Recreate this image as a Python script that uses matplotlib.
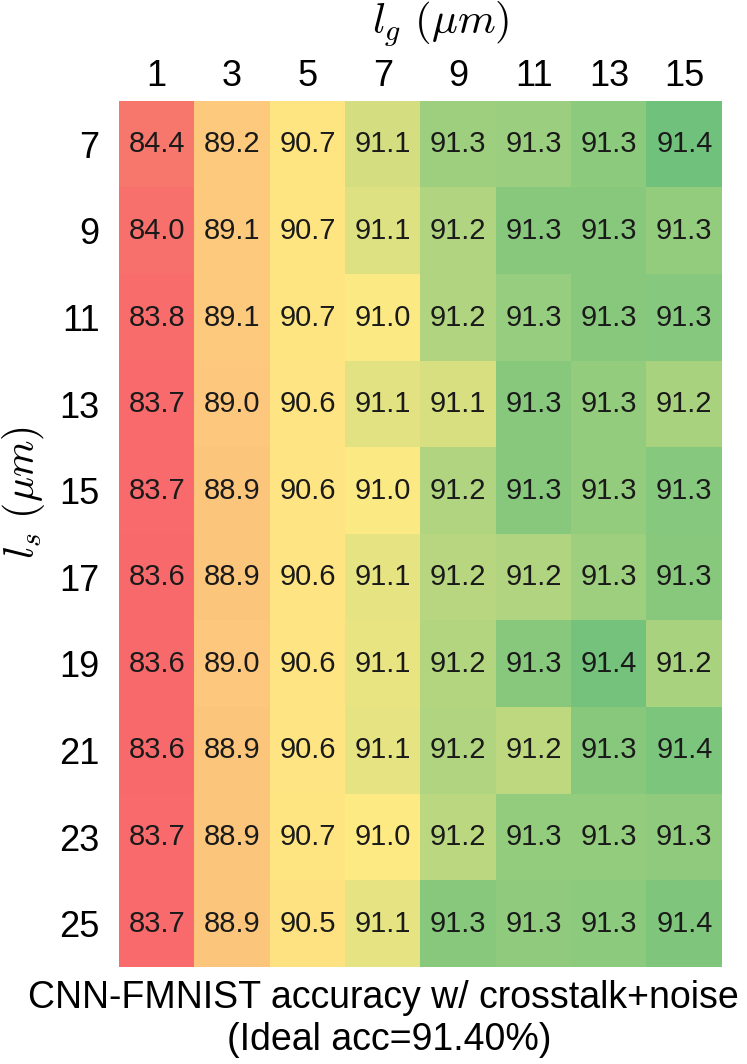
import numpy as np
import matplotlib
matplotlib.use("Agg")
import matplotlib.pyplot as plt
from matplotlib.colors import LinearSegmentedColormap, TwoSlopeNorm

plt.rcParams['font.family'] = ['Liberation Sans', 'DejaVu Sans']
plt.rcParams['mathtext.fontset'] = 'cm'

lg_labels = ["1", "3", "5", "7", "9", "11", "13", "15"]
ls_labels = ["7", "9", "11", "13", "15", "17", "19", "21", "23", "25"]

# accuracy (%) per l_s row, columns follow lg_labels; second decimal estimated from cell shade
row_7 = [84.42, 89.20, 90.70, 91.12, 91.27, 91.28, 91.32, 91.40]
row_9 = [84.02, 89.10, 90.70, 91.09, 91.22, 91.33, 91.33, 91.30]
row_11 = [83.80, 89.10, 90.70, 91.01, 91.22, 91.29, 91.33, 91.34]
row_13 = [83.70, 89.00, 90.60, 91.08, 91.11, 91.33, 91.30, 91.24]
row_15 = [83.70, 88.90, 90.60, 91.01, 91.22, 91.33, 91.30, 91.34]
row_17 = [83.60, 88.90, 90.60, 91.07, 91.20, 91.22, 91.27, 91.33]
row_19 = [83.60, 89.00, 90.60, 91.06, 91.21, 91.33, 91.39, 91.24]
row_21 = [83.60, 88.90, 90.60, 91.07, 91.22, 91.18, 91.33, 91.37]
row_23 = [83.70, 88.90, 90.70, 91.00, 91.19, 91.30, 91.30, 91.31]
row_25 = [83.70, 88.90, 90.50, 91.07, 91.33, 91.31, 91.32, 91.36]

data = np.array([row_7, row_9, row_11, row_13, row_15, row_17,
                 row_19, row_21, row_23, row_25])

cmap = LinearSegmentedColormap.from_list("excel3", ["#F8696B", "#FFEB84", "#63BE7B"])
norm = TwoSlopeNorm(vmin=data.min(), vcenter=91.0, vmax=91.44)

W, H = 747, 1064
fig = plt.figure(figsize=(W / 100, H / 100), dpi=100)
ax = fig.add_axes([119 / W, 1 - 967 / H, (722 - 119) / W, (967 - 101) / H])
ax.imshow(data, cmap=cmap, norm=norm, aspect='auto', interpolation='nearest')

for i in range(data.shape[0]):
    for j in range(data.shape[1]):
        ax.text(j, i, f"{data[i, j]:.1f}", ha='center', va='center',
                fontsize=21, color='#1a1a1a')

ax.set_xticks(range(len(lg_labels)))
ax.set_xticklabels(lg_labels, fontsize=26)
ax.set_yticks(range(len(ls_labels)))
ax.set_yticklabels(ls_labels, fontsize=26)
ax.xaxis.tick_top()
ax.tick_params(axis='both', length=0)
ax.tick_params(axis='x', pad=5)
ax.tick_params(axis='y', pad=14)
for s in ax.spines.values():
    s.set_visible(False)

fig.text(441 / W, 1 - 24 / H, r"$l_g\ (\mu m)$", fontsize=31, ha='center', va='center')
fig.text(24 / W, 1 - 493 / H, r"$l_s\ (\mu m)$", fontsize=30, ha='center', va='center',
         rotation=90)
fig.text(383 / W, 1 - 998 / H, "CNN-FMNIST accuracy w/ crosstalk+noise",
         fontsize=27, ha='center', va='center')
fig.text(389 / W, 1 - 1040 / H, "(Ideal acc=91.40%)",
         fontsize=27, ha='center', va='center')

fig.savefig("out.png", dpi=100)
